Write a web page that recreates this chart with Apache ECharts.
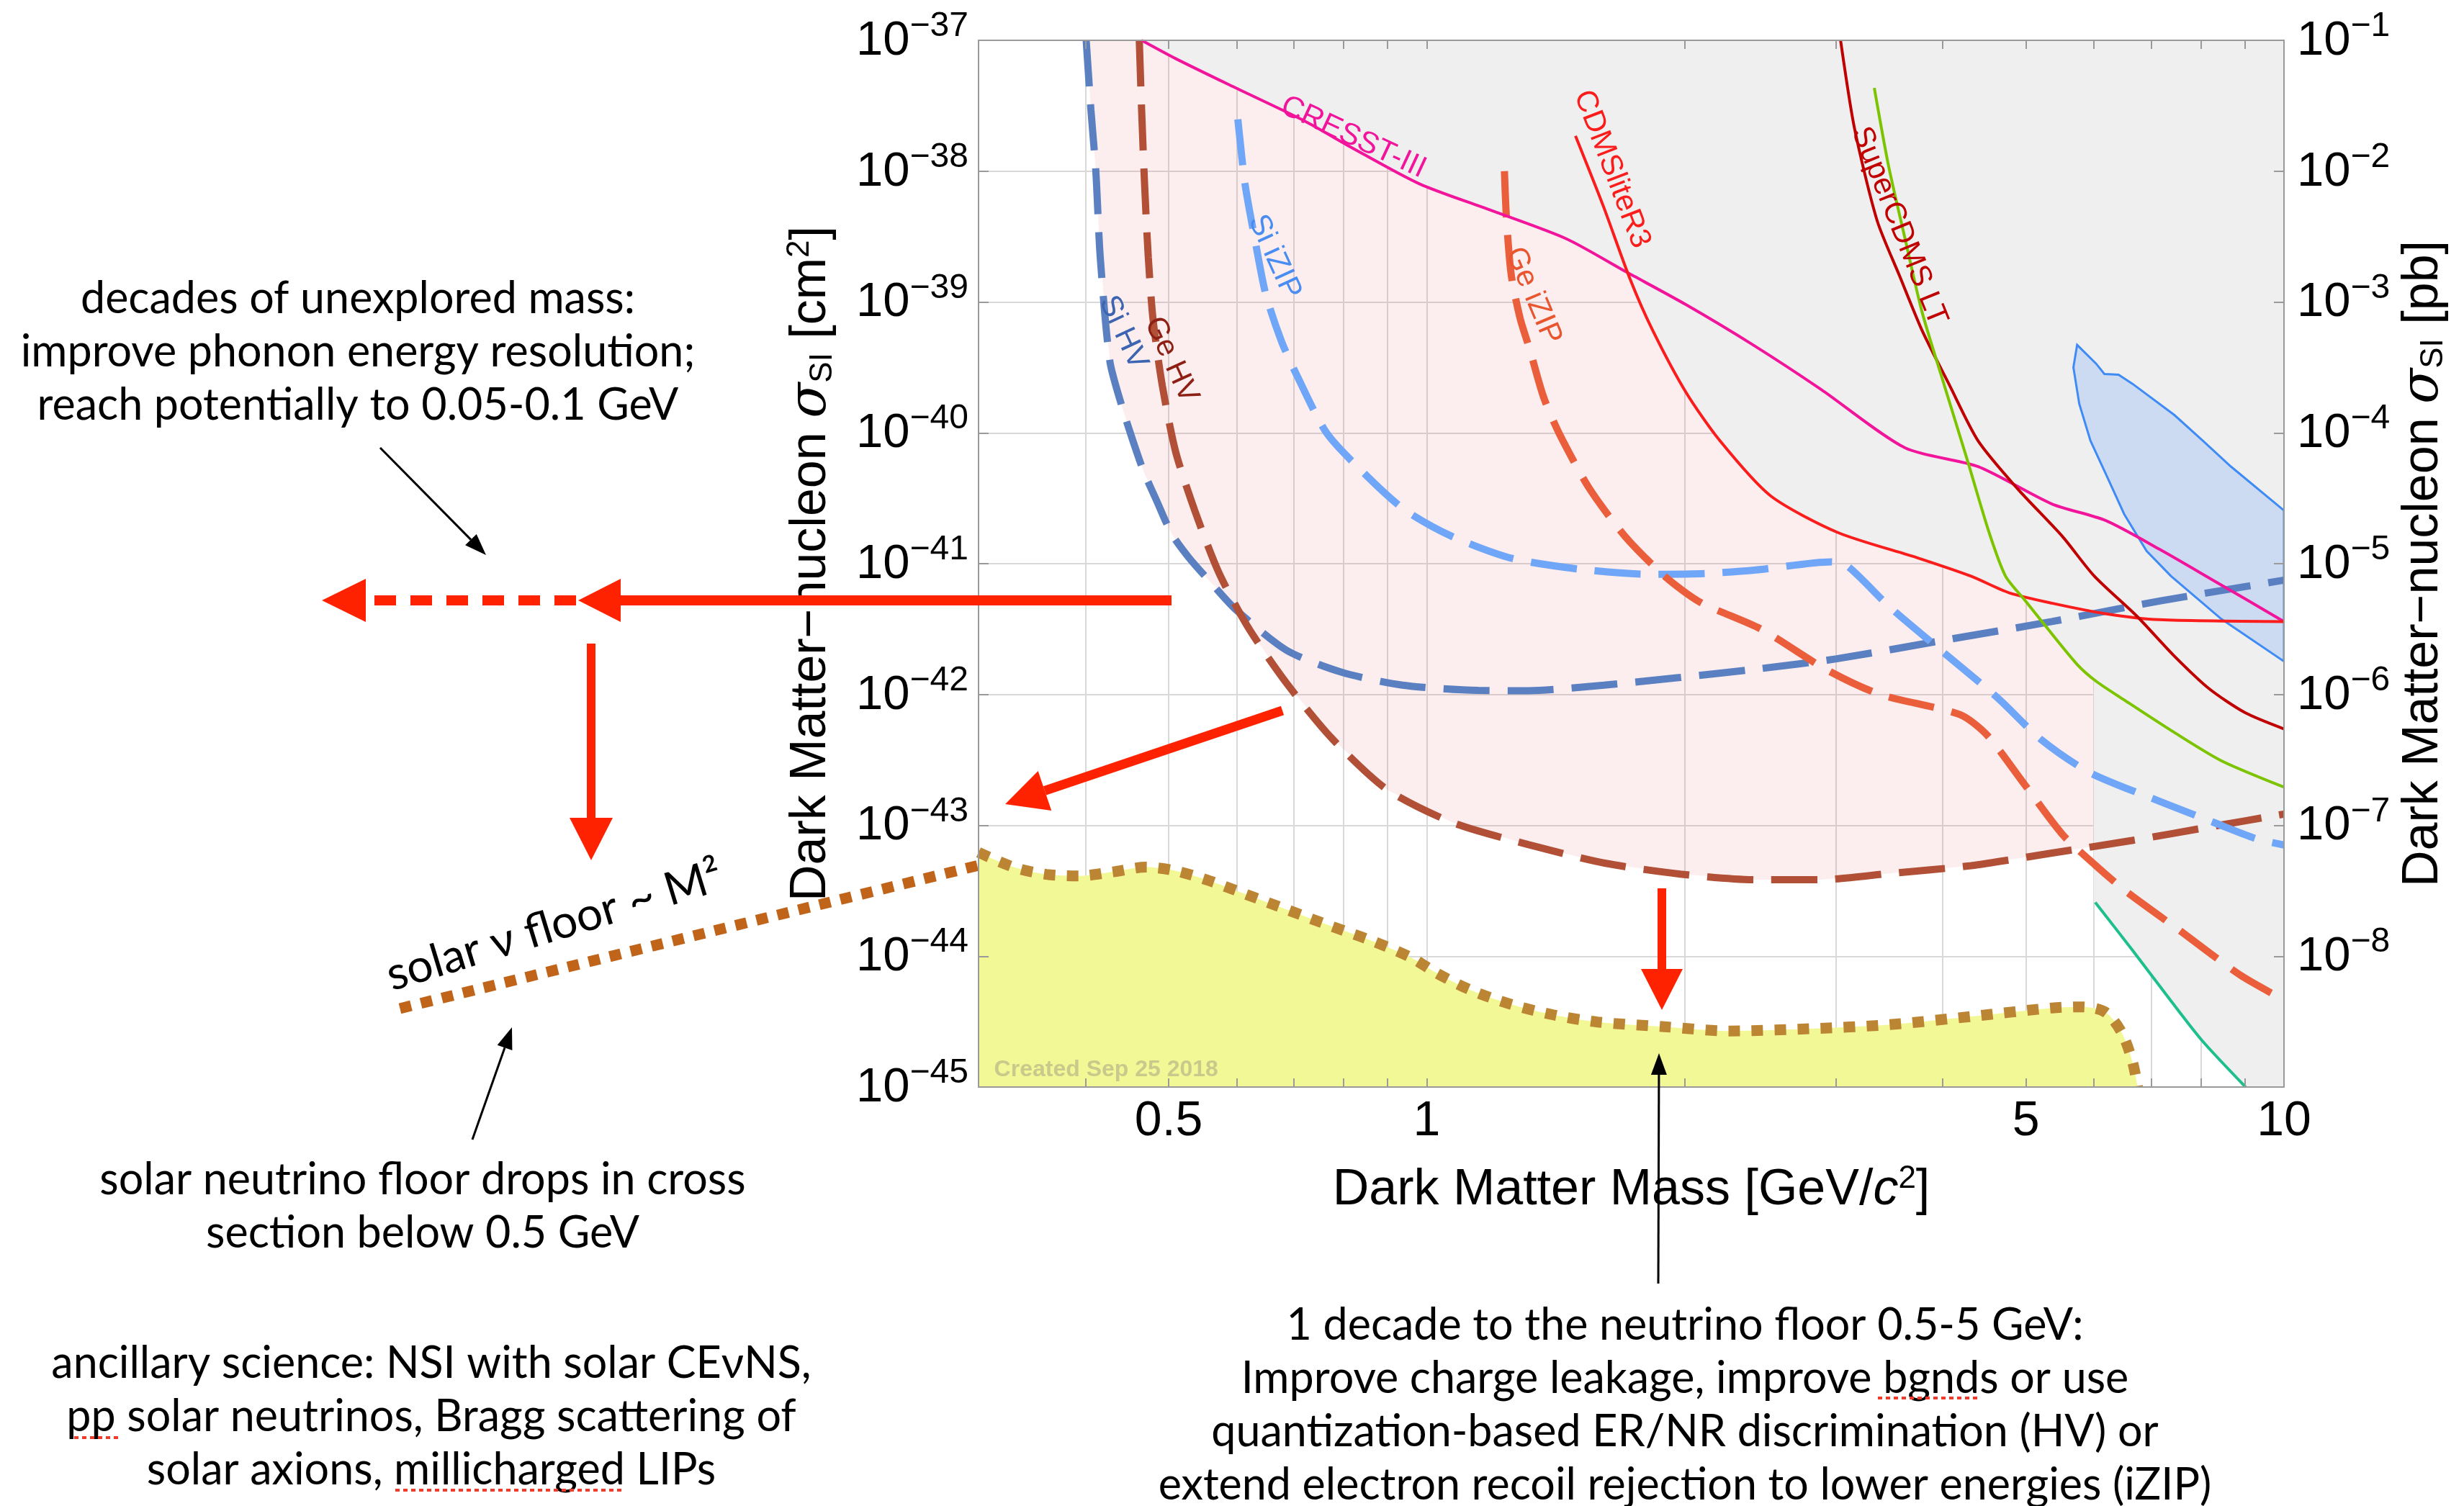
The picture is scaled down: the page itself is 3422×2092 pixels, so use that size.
<!DOCTYPE html>
<html>
<head>
<meta charset="utf-8">
<style>html,body{margin:0;padding:0;background:#fff}#main{width:3422px;height:2092px}</style>
<script src="https://cdn.jsdelivr.net/npm/echarts@6/dist/echarts.min.js"></script>
</head>
<body>
<div id="main"></div>
<script>
// all curves: [mass GeV/c^2, sigma_SI cm^2]
const siHV = [[0.4006,1e-37],[0.4057,2.94e-38],[0.4111,1e-38],[0.416,2.2e-39],[0.4269,3.52e-40],[0.4406,1.62e-40],[0.4538,8.83e-41],[0.4674,5.08e-41],[0.4834,3.09e-41],[0.5043,1.68e-41],[0.528,1.109e-41],[0.5604,7.13e-42],[0.5987,4.46e-42],[0.686,2.18e-42],[0.7955,1.48e-42],[0.9367,1.18e-42],[1.148,1.074e-42],[1.315,1.07e-42],[1.61,1.18e-42],[1.976,1.35e-42],[2.455,1.58e-42],[3.007,1.875e-42],[4.013,2.6e-42],[5.361,3.61e-42],[7.159,5.18e-42],[10,7.48e-42]];
const geHV = [[0.462,1e-37],[0.4649,2.94e-38],[0.4686,8e-39],[0.4733,2.2e-39],[0.4794,7.35e-40],[0.4915,2.29e-40],[0.5094,7.16e-41],[0.5362,2.55e-41],[0.5723,8.49e-42],[0.6194,3.23e-42],[0.6862,1.22e-42],[0.7748,4.63e-43],[0.899,1.875e-43],[1.073,1.047e-43],[1.315,7.11e-44],[1.613,5.14e-44],[1.976,4.24e-44],[2.42,3.84e-44],[2.879,3.84e-44],[3.47,4.29e-44],[4.315,4.92e-44],[5.361,6.14e-44],[6.648,7.66e-44],[8.264,9.82e-44],[10,1.22e-43]];
const siIZIP = [[0.602,2.49e-38],[0.6137,8e-39],[0.6289,3.25e-39],[0.6487,1.156e-39],[0.677,4.99e-40],[0.7047,2.79e-40],[0.7647,9.91e-41],[0.8546,4.57e-41],[0.9446,2.55e-41],[1.069,1.62e-41],[1.255,1.1e-41],[1.511,9.06e-42],[1.816,8.3e-42],[2.114,8.41e-42],[2.42,8.95e-42],[2.963,1.033e-41],[3.094,9.62e-42],[3.47,4.65e-42],[4.013,2.08e-42],[4.637,9.38e-43],[5.205,4.54e-43],[5.929,2.54e-43],[7.159,1.528e-43],[8.264,1.059e-43],[9.28,7.91e-44],[10,7.08e-44]];
const geIZIP = [[1.232,1e-38],[1.239,4.24e-39],[1.255,1.596e-39],[1.286,7.35e-40],[1.318,4.39e-40],[1.368,1.89e-40],[1.427,9.91e-41],[1.548,3.75e-41],[1.703,1.62e-41],[1.897,7.96e-42],[2.086,5.06e-42],[2.455,3.155e-42],[2.92,1.56e-42],[3.37,1.007e-42],[4.192,7.0e-43],[4.505,4.89e-43],[4.985,2.04e-43],[5.516,8.51e-44],[6.017,5.0e-44],[6.53,3.16e-44],[7.573,1.556e-44],[8.889,7.18e-45],[10,4.63e-45]];
const cresst = [[0.4649,1e-37],[0.5098,7.23e-38],[0.5984,4.33e-38],[0.72,2.42e-38],[0.8149,1.53e-38],[0.9804,8e-39],[1.179,5.11e-39],[1.455,3.04e-39],[1.708,1.7e-39],[2.007,9.53e-40],[2.406,4.67e-40],[2.883,2.15e-40],[3.616,7.66e-41],[4.397,5.52e-41],[5.361,2.86e-41],[6.19,2.14e-41],[7.159,1.288e-41],[8.264,7.48e-42],[10,3.61e-42]];
const cdmsLite = [[1.491,1.86e-38],[1.606,5.45e-39],[1.727,1.49e-39],[1.835,6.05e-40],[2.008,2.02e-40],[2.198,8.69e-41],[2.518,3.3e-41],[3.017,1.73e-41],[3.735,1.109e-41],[4.315,8.02e-42],[4.775,6.0e-42],[5.361,4.99e-42],[6.19,4.15e-42],[7.159,3.73e-42],[10,3.61e-42]];
const superLT = [[3.039,1e-37],[3.155,2.12e-38],[3.352,4.2e-39],[3.559,1.596e-39],[3.783,6.05e-40],[4.075,2.29e-40],[4.397,8.69e-41],[4.886,3.75e-41],[5.512,1.62e-41],[6.006,8.05e-42],[6.743,3.94e-42],[7.43,2.0e-42],[8.18,1.107e-42],[9.01,7.26e-43],[10,5.46e-43]];
const greenLimit = [[3.327,4.33e-38],[3.456,1.109e-38],[3.614,3.04e-39],[3.783,8.36e-40],[4.017,2.29e-40],[4.268,6.31e-41],[4.529,1.73e-41],[4.732,8.05e-42],[4.98,5.3e-42],[5.245,3.47e-42],[5.741,1.69e-42],[6.044,1.256e-42],[6.53,8.97e-43],[7.43,5.18e-43],[8.45,3.12e-43],[10,1.96e-43]];
const tealLimit = [[6.023,2.58e-44],[6.657,1.11e-44],[7.367,4.63e-45],[8.032,2.25e-45],[9.02,1.0e-45]];
const blueContour = [[5.737,4.7e-40],[6.035,3.39e-40],[6.173,2.82e-40],[6.412,2.78e-40],[6.657,2.37e-40],[7.45,1.368e-40],[8.04,8.71e-41],[8.67,5.53e-41],[10,2.55e-41],[10,1.79e-42],[8.45,3.78e-42],[7.38,8.05e-42],[6.913,1.25e-41],[6.51,2.39e-41],[6.223,4.57e-41],[5.946,8.71e-41],[5.77,1.667e-40],[5.68,3.17e-40]];
const nuFloor = [[0.3,6.22e-44],[0.3297,4.79e-44],[0.36,4.22e-44],[0.3937,4.11e-44],[0.4302,4.41e-44],[0.4702,4.79e-44],[0.5064,4.53e-44],[0.5534,3.84e-44],[0.6137,2.99e-44],[0.6906,2.24e-44],[0.7775,1.675e-44],[0.862,1.315e-44],[0.9567,9.84e-45],[1.03,7.35e-45],[1.126,5.5e-45],[1.249,4.32e-45],[1.405,3.56e-45],[1.582,3.14e-45],[1.893,2.89e-45],[2.252,2.68e-45],[2.797,2.79e-45],[3.47,3.0e-45],[4.315,3.46e-45],[5.361,4.02e-45],[5.81,4.1e-45],[6.19,3.73e-45],[6.47,2.59e-45],[6.657,1.56e-45],[6.75,1.0e-45]];
const nuFloorLowMass = [[0.299,4.92e-44],[0.0627,3.91e-45]];
// excluded region (lower envelope of current limits) and projected reach
const excludedEdge = [[0.4649,1e-37],[0.5098,7.23e-38],[0.5984,4.33e-38],[0.72,2.42e-38],[0.8149,1.53e-38],[0.9804,8e-39],[1.179,5.11e-39],[1.455,3.04e-39],[1.714,1.596e-39],[1.835,6.05e-40],[2.008,2.02e-40],[2.198,8.69e-41],[2.518,3.3e-41],[3.017,1.73e-41],[3.735,1.109e-41],[4.315,8.02e-42],[4.775,6.0e-42],[4.95,5.41e-42],[5.245,3.47e-42],[5.741,1.69e-42],[6.0,1.29e-42],[6.0,2.6e-44],[6.657,1.11e-44],[7.367,4.63e-45],[8.032,2.25e-45],[9.02,1.0e-45],[10,1e-45],[10,1e-37]];
const reachEdge = [[0.4006,1e-37],[0.4057,2.94e-38],[0.4111,1e-38],[0.416,2.2e-39],[0.4269,3.52e-40],[0.4406,1.62e-40],[0.4538,8.83e-41],[0.4674,5.08e-41],[0.4834,3.09e-41],[0.5043,1.68e-41],[0.528,1.109e-41],[0.5604,7.13e-42],[0.5994,4.8e-42],[0.6194,3.23e-42],[0.6862,1.22e-42],[0.7748,4.63e-43],[0.899,1.875e-43],[1.073,1.047e-43],[1.315,7.11e-44],[1.613,5.14e-44],[1.976,4.24e-44],[2.42,3.84e-44],[2.879,3.84e-44],[3.47,4.29e-44],[4.315,4.92e-44],[5.361,6.14e-44],[6.648,7.66e-44],[10,1.22e-43],[10,1e-37]];

const xGrid = [0.4,0.5,0.6,0.7,0.8,0.9,1,2,3,4,5,6,7,8,9];
const xTickLabels = [0.5,1,5,10];
const yMinExp = -45, yMaxExp = -37;

const FONT = 'Liberation Sans';
const NOTE_FONT = 'Lato';
const L = p => [Math.log10(p[0]), Math.log10(p[1])];
const FRAME = '#9a9a9a';

function curve(name, pts, color, width, dash, z) {
  return {
    name: name, type: 'line', data: pts.map(L), showSymbol: false, symbol: 'none',
    smooth: 0.25, silent: true, z: z || 5,
    lineStyle: {color: color, width: width, type: dash || 'solid', cap: 'butt'}
  };
}
function region(name, pts, fill, stroke, z) {
  return {
    name: name, type: 'custom', coordinateSystem: 'cartesian2d', silent: true, z: z, clip: true,
    data: [[0, -40]],
    renderItem: function (params, api) {
      return {
        type: 'polygon',
        shape: {points: pts.map(p => api.coord(L(p)))},
        style: {fill: fill, stroke: stroke || null, lineWidth: stroke ? 3 : 0}
      };
    }
  };
}

const supRich = {
  b: {fontSize: 67, fontFamily: FONT, color: '#000', verticalAlign: 'bottom', padding: [0, 0, 8, 0]},
  s: {fontSize: 48, fontFamily: FONT, color: '#000', verticalAlign: 'top', padding: [0, 0, 38, 0]}
};
const nameRich = {
  t: {fontSize: 70, fontFamily: FONT, color: '#000'},
  i: {fontSize: 72, fontFamily: 'DejaVu Serif', fontStyle: 'italic', color: '#000'},
  sub: {fontSize: 44, fontFamily: FONT, color: '#000', verticalAlign: 'bottom', padding: [28, 0, 0, 0]},
  sup: {fontSize: 44, fontFamily: FONT, color: '#000', verticalAlign: 'top', padding: [0, 0, 32, 0]},
  ic: {fontSize: 70, fontFamily: FONT, fontStyle: 'italic', color: '#000'}
};

const xLo = Math.log10(0.3), xHi = 1;
const xAxisBase = {type: 'value', min: xLo, max: xHi, splitLine: {show: false}};
const yAxisBase = {type: 'value', min: yMinExp, max: yMaxExp, interval: 1, splitLine: {show: false}};
const frameLine = {show: true, onZero: false, lineStyle: {color: FRAME, width: 2}};

const chart = echarts.init(document.getElementById('main'));

chart.setOption({
  backgroundColor: '#fff',
  animation: false,
  grid: {left: 1359, right: 250, top: 56, bottom: 582, outerBoundsMode: 'none'},
  xAxis: [
    Object.assign({}, xAxisBase, {
      position: 'bottom', z: 0,
      axisLine: {show: false}, axisLabel: {show: false},
      axisTick: {show: false, customValues: xGrid.map(Math.log10)},
      splitLine: {show: true, lineStyle: {color: '#d9d9d9', width: 2}}
    }),
    Object.assign({}, xAxisBase, {
      position: 'bottom', z: 10,
      axisLine: frameLine,
      axisTick: {show: true, inside: true, length: 12, customValues: xGrid.map(Math.log10), lineStyle: {color: FRAME, width: 2}},
      axisLabel: {
        customValues: xTickLabels.map(Math.log10), margin: 14,
        fontSize: 68, fontFamily: FONT, color: '#000',
        formatter: function (v) { const m = Math.pow(10, v); return m < 1 ? m.toFixed(1) : String(Math.round(m)); }
      },
      name: '{t|Dark Matter Mass [GeV/}{ic|c}{sup|2}{t|]}', nameLocation: 'middle', nameGap: 106,
      nameTextStyle: {rich: nameRich}
    }),
    Object.assign({}, xAxisBase, {
      position: 'top', z: 10,
      axisLine: frameLine, axisLabel: {show: false},
      axisTick: {show: true, inside: true, length: 12, customValues: xGrid.map(Math.log10), lineStyle: {color: FRAME, width: 2}}
    })
  ],
  yAxis: [
    Object.assign({}, yAxisBase, {
      position: 'left', z: 0,
      axisLine: {show: false}, axisLabel: {show: false}, axisTick: {show: false},
      splitLine: {show: true, lineStyle: {color: '#d9d9d9', width: 2}}
    }),
    Object.assign({}, yAxisBase, {
      position: 'left', z: 10,
      axisLine: frameLine,
      axisTick: {show: true, inside: true, length: 14, lineStyle: {color: FRAME, width: 2}},
      axisLabel: {margin: 14, rich: supRich, formatter: v => '{b|10}{s|\u2212' + (-v) + '}'},
      name: '{t|Dark Matter\u2212nucleon }{i|\u03c3}{sub|SI}{t| [cm}{sup|2}{t|]}',
      nameLocation: 'middle', nameRotate: 90, nameGap: 194,
      nameTextStyle: {rich: nameRich}
    }),
    Object.assign({}, yAxisBase, {
      position: 'right', z: 10,
      axisLine: frameLine,
      axisTick: {show: true, inside: true, length: 14, lineStyle: {color: FRAME, width: 2}},
      axisLabel: {margin: 18, rich: supRich, formatter: v => v <= yMinExp ? '' : '{b|10}{s|\u2212' + (-(v + 36)) + '}'},
      name: '{t|Dark Matter\u2212nucleon }{i|\u03c3}{sub|SI}{t| [pb]}',
      nameLocation: 'middle', nameRotate: 90, nameGap: 156,
      nameTextStyle: {rich: nameRich}
    })
  ],
  series: [
    region('projected reach', reachEdge, 'rgba(230,90,90,0.1)', null, 1),
    region('excluded', excludedEdge, '#efefef', null, 2),
    {
      name: 'solar neutrino floor', type: 'line', data: nuFloor.map(L), showSymbol: false, symbol: 'none',
      smooth: 0.3, silent: true, z: 2,
      lineStyle: {width: 0, opacity: 0},
      areaStyle: {color: '#f3f897', opacity: 1, origin: 'start'}
    },
    region('blue contour', blueContour, '#cddbf2', '#3f8bf5', 3),
    curve('Si HV', siHV, '#5b80c2', 10, [64, 25]),
    curve('Ge HV', geHV, '#b24f37', 10, [64, 25]),
    curve('Si iZIP', siIZIP, '#70a6f7', 10, [64, 25]),
    curve('Ge iZIP', geIZIP, '#ea5e3c', 10, [64, 25]),
    curve('CRESST-III', cresst, '#f2149b', 4),
    curve('CDMSliteR3', cdmsLite, '#fb1c1c', 4),
    curve('SuperCDMS LT', superLT, '#c00000', 4),
    curve('green limit', greenLimit, '#7dc400', 4),
    curve('teal limit', tealLimit, '#1dbf8c', 4),
    {
      name: 'floor line', type: 'line', data: nuFloor.map(L), showSymbol: false, symbol: 'none',
      smooth: 0.3, silent: true, z: 6,
      lineStyle: {color: '#bb8534', width: 15, type: [16, 16], cap: 'butt'}
    },
    {
      // extrapolated floor below the plotted mass range, drawn outside the frame
      name: 'floor ~ M2', type: 'custom', coordinateSystem: 'cartesian2d', silent: true, z: 6, clip: false,
      data: [[0, -40]],
      renderItem: function (params, api) {
        return {
          type: 'polyline',
          shape: {points: nuFloorLowMass.map(p => api.coord(L(p)))},
          style: {stroke: '#c0641a', lineWidth: 15, lineDash: [16, 14], fill: null}
        };
      }
    }
  ]
});

// labels inside the frame, anchored in data space
const plotLabels = [
  {text: 'CRESST-III', at: [0.821, 1.81e-38], rot: -25, color: '#f2149b'},
  {text: 'CDMSliteR3', at: [1.644, 1.035e-38], rot: -69, color: '#fb1c1c'},
  {text: 'SuperCDMS LT', at: [3.556, 3.8e-39], rot: -68, color: '#c00000'},
  {text: 'Ge iZIP', at: [1.331, 1.114e-39], rot: -67, color: '#e9552f'},
  {text: 'Si iZIP', at: [0.6643, 2.21e-39], rot: -65.5, color: '#4a8df2'},
  {text: 'Si HV', at: [0.4422, 5.83e-40], rot: -65, color: '#3c64b0'},
  {text: 'Ge HV', at: [0.5033, 3.61e-40], rot: -65.5, color: '#8e1f14'}
];

const deg = Math.PI / 180;
function arrow(x1, y1, x2, y2, color, w, head, hw, dash) {
  const a = Math.atan2(y2 - y1, x2 - x1);
  const bx = x2 - head * Math.cos(a), by = y2 - head * Math.sin(a);
  const nx = -Math.sin(a) * hw, ny = Math.cos(a) * hw;
  return [
    {type: 'line', z: 100, silent: true, shape: {x1: x1, y1: y1, x2: bx, y2: by},
     style: {stroke: color, lineWidth: w, lineDash: dash || null}},
    {type: 'polygon', z: 100, silent: true, shape: {points: [[x2, y2], [bx + nx, by + ny], [bx - nx, by - ny]]},
     style: {fill: color}}
  ];
}
function note(x, y, text, size, rot) {
  return {type: 'text', x: x, y: y, rotation: (rot || 0) * deg, z: 100, silent: true,
    style: {text: text, fontSize: size || 61, fontFamily: NOTE_FONT, fill: '#000',
      align: 'center', verticalAlign: 'middle', lineHeight: 74}};
}
function squiggle(x1, x2, y) {
  return {type: 'line', z: 100, silent: true, shape: {x1: x1, y1: y, x2: x2, y2: y},
    style: {stroke: '#f03a2a', lineWidth: 4, lineDash: [6, 5]}};
}

const RED = '#ff2200';
const graphics = [];
plotLabels.forEach(function (lb) {
  const p = chart.convertToPixel({gridIndex: 0}, L(lb.at));
  graphics.push({type: 'text', x: p[0], y: p[1], rotation: lb.rot * deg, z: 50, silent: true,
    style: {text: lb.text, fontSize: 42, fontFamily: FONT, fill: lb.color, align: 'center', verticalAlign: 'middle'}});
});
const stamp = chart.convertToPixel({gridIndex: 0}, L([0.3128, 1.355e-45]));
graphics.push({type: 'text', x: stamp[0], y: stamp[1], z: 50, silent: true,
  style: {text: 'Created Sep 25 2018', fontSize: 32, fontWeight: 'bold', fontFamily: FONT, fill: '#c9c98c',
    align: 'left', verticalAlign: 'middle'}});

graphics.push(
  ...arrow(1627, 834, 803, 834, RED, 14, 59, 30),
  ...arrow(800, 834, 447, 834, RED, 14, 61, 30, [30, 20]),
  ...arrow(821, 894, 821, 1195, RED, 12, 59, 30),
  ...arrow(1781, 987, 1396, 1117, RED, 13, 58, 29),
  ...arrow(2308, 1234, 2308, 1403, RED, 12, 57, 29),
  ...arrow(528, 622, 675, 771, '#000', 3, 30, 11),
  ...arrow(2303, 1783, 2304, 1463, '#000', 3, 30, 11),
  ...arrow(656, 1583, 711, 1427, '#000', 3, 30, 11),
  note(497, 489, 'decades of unexplored mass:\nimprove phonon energy resolution;\nreach potentially to 0.05-0.1 GeV'),
  note(770, 1286, 'solar \u03bd floor ~ M\u00b2', 64, 17),
  note(587, 1676, 'solar neutrino floor drops in cross\nsection below 0.5 GeV'),
  note(599, 1968, 'ancillary science: NSI with solar CE\u03bdNS,\npp solar neutrinos, Bragg scattering of\nsolar axions, millicharged LIPs'),
  note(2340, 1952, '1 decade to the neutrino floor 0.5-5 GeV:\nImprove charge leakage, improve bgnds or use\nquantization-based ER/NR discrimination (HV) or\nextend electron recoil rejection to lower energies (iZIP)'),
  squiggle(103, 168, 1997),
  squiggle(549, 863, 2070),
  squiggle(2608, 2747, 1942)
);
chart.setOption({graphic: graphics});
</script>
</body>
</html>
